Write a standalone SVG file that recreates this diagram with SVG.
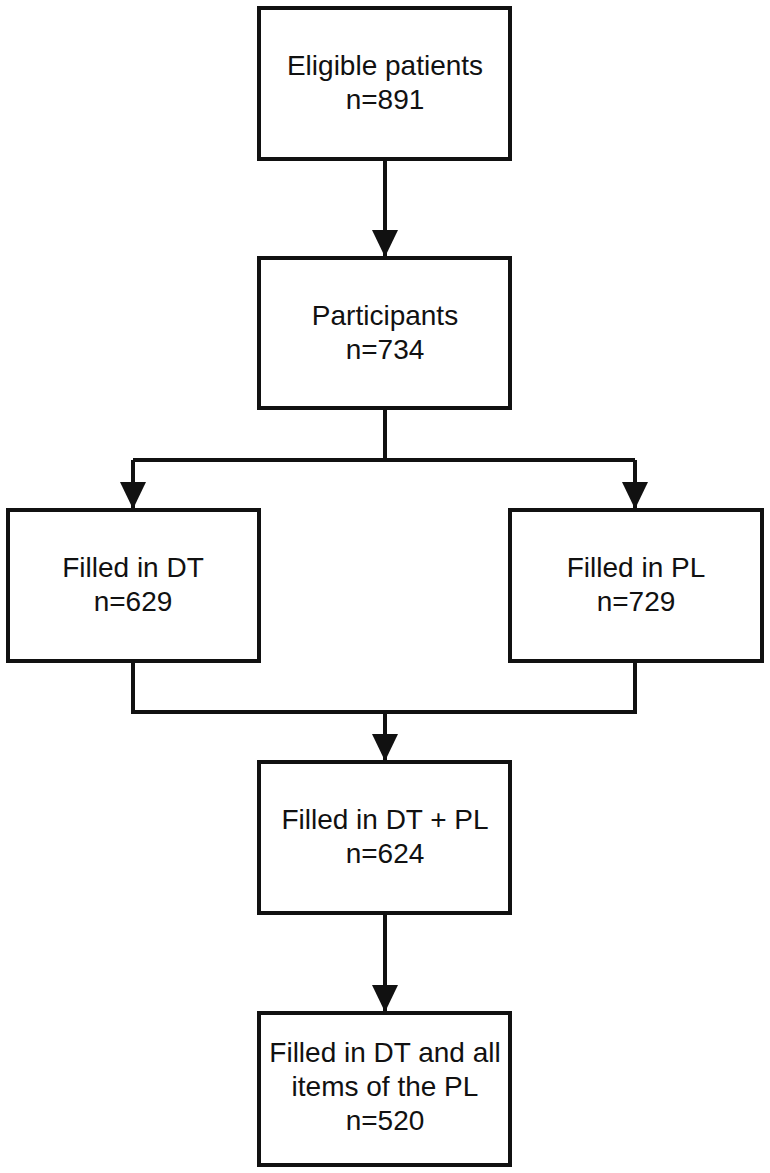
<svg xmlns="http://www.w3.org/2000/svg" width="770" height="1173" viewBox="0 0 770 1173">
<style>
.box{fill:#fff;stroke:#111;stroke-width:4}
.lbl{font-family:"Liberation Sans",Arial,sans-serif;font-size:28px;fill:#111;text-anchor:middle}
.con{fill:none;stroke:#111;stroke-width:4}
</style>
<defs>
<marker id="ah" markerUnits="userSpaceOnUse" markerWidth="28" markerHeight="28" viewBox="0 0 28 28" refX="27" refY="14" orient="auto">
<path d="M0,1 L27,14 L0,27 Z" fill="#111"/>
</marker>
</defs>
<rect width="770" height="1173" fill="#fff"/>
<g id="connectors">
<line class="con" x1="385" y1="159" x2="385" y2="257" marker-end="url(#ah)"/>
<path class="con" d="M385,408 V460 M133,460 H635"/>
<line class="con" x1="133" y1="460" x2="133" y2="509" marker-end="url(#ah)"/>
<line class="con" x1="635" y1="460" x2="635" y2="509" marker-end="url(#ah)"/>
<path class="con" d="M133,661 V712 H635 V661"/>
<line class="con" x1="385" y1="712" x2="385" y2="761" marker-end="url(#ah)"/>
<line class="con" x1="385" y1="913" x2="385" y2="1012" marker-end="url(#ah)"/>
</g>
<g id="eligible">
<rect class="box" x="259" y="8" width="251" height="151"/>
<text class="lbl" x="385" y="75">Eligible patients</text>
<text class="lbl" x="385" y="109">n=891</text>
</g>
<g id="participants">
<rect class="box" x="259" y="258" width="251" height="150"/>
<text class="lbl" x="385" y="325">Participants</text>
<text class="lbl" x="385" y="359">n=734</text>
</g>
<g id="dt">
<rect class="box" x="8" y="510" width="251" height="151"/>
<text class="lbl" x="133" y="577">Filled in DT</text>
<text class="lbl" x="133" y="611">n=629</text>
</g>
<g id="pl">
<rect class="box" x="510" y="510" width="252" height="151"/>
<text class="lbl" x="636" y="577">Filled in PL</text>
<text class="lbl" x="636" y="611">n=729</text>
</g>
<g id="dtpl">
<rect class="box" x="259" y="762" width="251" height="151"/>
<text class="lbl" x="385" y="829">Filled in DT + PL</text>
<text class="lbl" x="385" y="863">n=624</text>
</g>
<g id="all">
<rect class="box" x="259" y="1013" width="251" height="152"/>
<text class="lbl" x="385" y="1062">Filled in DT and all</text>
<text class="lbl" x="385" y="1096">items of the PL</text>
<text class="lbl" x="385" y="1130">n=520</text>
</g>
</svg>
